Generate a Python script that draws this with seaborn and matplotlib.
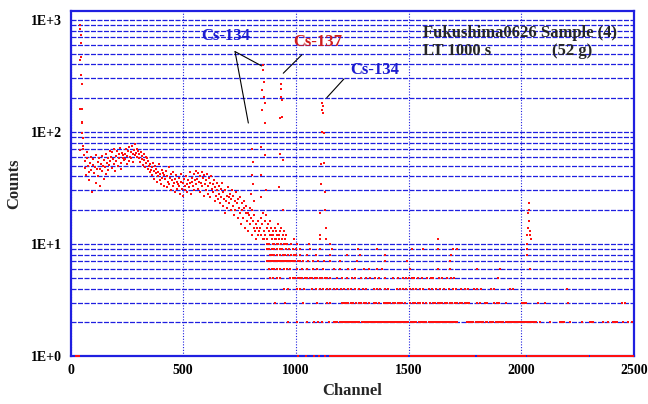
import numpy as np
import pandas as pd
import matplotlib
matplotlib.use("Agg")
import matplotlib.pyplot as plt
from matplotlib.ticker import LogLocator, FuncFormatter, NullFormatter, MultipleLocator
import seaborn as sns

# ---- data ----
# continuum, one reading every 3 channels from ch 60
cont_ch = list(range(60, 960, 3))
cont_counts = [
    62, 48, 55, 41, 58, 66, 50, 44, 37, 53, 60, 46, 29, 51, 57, 43, 49, 35, 62, 47,
    54, 40, 58, 47, 33, 52, 61, 45, 50, 38, 56, 49, 64, 42, 53, 59, 46, 51, 67, 55,
    60, 48, 66, 57, 52, 70, 45, 61, 55, 68, 50, 63, 58, 72, 53, 47, 65, 59, 62, 56,
    64, 57, 70, 52, 61, 67, 55, 73, 60, 66, 58, 75, 63, 54, 69, 62, 78, 65, 71, 60,
    68, 59, 63, 54, 66, 57, 61, 51, 64, 56, 49, 60, 53, 58, 47, 55, 50, 44, 52, 46,
    49, 41, 53, 45, 38, 50, 43, 47, 36, 44, 40, 52, 37, 42, 34, 46, 39, 43, 33, 41,
    38, 45, 32, 40, 36, 49, 34, 39, 30, 42, 37, 33, 44, 35, 29, 38, 41, 31, 36, 34,
    33, 39, 28, 36, 42, 31, 35, 27, 38, 33, 30, 40, 34, 29, 37, 32, 44, 35, 28, 36,
    39, 33, 42, 30, 37, 45, 34, 38, 31, 43, 36, 40, 29, 35, 44, 33, 39, 27, 41, 34,
    37, 30, 42, 33, 28, 39, 35, 26, 40, 31, 34, 29, 37, 24, 32, 27, 35, 30, 25, 33,
    28, 23, 31, 26, 35, 22, 29, 25, 19, 30, 24, 27, 21, 32, 26, 23, 28, 20, 25, 30,
    22, 27, 18, 24, 20, 29, 23, 17, 25, 21, 26, 19, 15, 23, 20, 17, 24, 21, 14, 19,
    22, 16, 19, 13, 18, 21, 15, 17, 12, 20, 16, 14, 18, 13, 15, 11, 14, 12, 16, 13,
    14, 17, 12, 15, 19, 11, 13, 16, 12, 18, 14, 11, 15, 13, 10, 16, 12, 14, 11, 13,
    12, 10, 14, 11, 13, 12, 10, 15, 11, 12, 13, 10, 14, 11, 12, 10, 13, 11, 12, 10,
]

# low energy spike
spike_ch = [40, 41, 42, 43, 44, 45, 46, 47, 48, 49, 50, 51, 52, 53, 54, 55, 56]
spike_counts = [69, 160, 438, 826, 902, 739, 627, 470, 323, 268, 160, 120, 122, 97, 88, 75, 70]

# photopeaks
peak_ch = [803, 805, 807, 809, 811, 813,
           843, 845, 847, 849, 851, 853, 855, 857, 859, 861, 863, 865, 867,
           926, 928, 930, 932, 934, 936, 938, 940, 942, 944,
           1106, 1108, 1110, 1112, 1114, 1116, 1118, 1120, 1122, 1124, 1126, 1128, 1130, 1132, 1134,
           1630,
           2026, 2028, 2030, 2032, 2034, 2036, 2038, 2040]
peak_counts = [28, 41, 71, 54, 34, 24,
               26, 41, 74, 158, 237, 359, 396, 281, 207, 182, 120, 62, 30,
               32, 64, 133, 207, 270, 244, 193, 137, 56, 20,
               12, 19, 34, 52, 100, 158, 181, 169, 147, 97, 53, 29, 20, 14, 11,
               11,
               12, 14, 19, 23, 20, 16, 13, 12]

# scattered 10-12 count channels above ch 850
tail_ch = [860, 872, 885, 898, 910, 921, 950, 962, 978, 990, 1004, 1060, 1107, 1150, 1630, 2024, 2043]
tail_counts = [11, 10, 12, 10, 11, 10, 11, 10, 10, 11, 10, 10, 11, 10, 11, 10, 11]

# channels sitting on each low integer count
ch_at_1 = [26, 31, 36, 1008, 1046, 1079, 1104, 1131, 1152, 1159, 1168, 1175, 1183, 1190, 1199, 1206,
           1214, 1223, 1230, 1238, 1247, 1254, 1262, 1271, 1278, 1286, 1294, 1303, 1310, 1318, 1327,
           1334, 1342, 1351, 1358, 1366, 1375, 1382, 1390, 1399, 1406, 1414, 1422, 1431, 1438, 1446,
           1455, 1462, 1470, 1479, 1486, 1494, 1510, 1518, 1527, 1534, 1542, 1550, 1559, 1566, 1574,
           1583, 1590, 1598, 1607, 1614, 1622, 1631, 1638, 1646, 1655, 1662, 1670, 1678, 1687, 1694,
           1702, 1711, 1718, 1726, 1735, 1742, 1750, 1759, 1766, 1774, 1783, 1790, 1806, 1815, 1822,
           1830, 1839, 1846, 1854, 1863, 1870, 1878, 1887, 1894, 1902, 1911, 1918, 1926, 1934, 1943,
           1950, 1958, 1967, 1974, 1982, 1991, 1998, 2006, 2015, 2030, 2039, 2046, 2054, 2062, 2071,
           2078, 2086, 2095, 2102, 2110, 2119, 2126, 2134, 2143, 2150, 2158, 2167, 2174, 2182, 2190,
           2199, 2206, 2214, 2223, 2230, 2238, 2247, 2254, 2262, 2271, 2278, 2286, 2295, 2310, 2318,
           2327, 2334, 2342, 2351, 2358, 2366, 2375, 2382, 2390, 2399, 2406, 2414, 2423, 2430, 2438,
           2446, 2455, 2462, 2470, 2479, 2486, 2494]
ch_at_2 = [963, 1005, 1048, 1082, 1096, 1118, 1145, 1168, 1176, 1184, 1195, 1203, 1212, 1221, 1229,
           1240, 1248, 1256, 1265, 1274, 1282, 1293, 1301, 1310, 1318, 1327, 1338, 1346, 1355, 1364,
           1372, 1383, 1391, 1400, 1408, 1419, 1427, 1436, 1444, 1453, 1464, 1472, 1481, 1490, 1498,
           1509, 1517, 1526, 1534, 1545, 1553, 1562, 1570, 1579, 1590, 1598, 1607, 1616, 1624, 1635,
           1643, 1652, 1660, 1671, 1679, 1688, 1697, 1705, 1716, 1760, 1769, 1778, 1786, 1797, 1805,
           1814, 1823, 1831, 1842, 1850, 1859, 1868, 1876, 1887, 1895, 1904, 1913, 1921, 1932, 1940,
           1949, 1958, 1966, 1977, 1985, 1994, 2003, 2011, 2022, 2030, 2039, 2048, 2056, 2066, 2083,
           2127, 2172, 2180, 2190, 2216, 2268, 2305, 2313, 2320, 2364, 2386, 2409, 2416, 2423, 2453,
           2475, 2492]
ch_at_3 = [907, 952, 1033, 1092, 1138, 1150, 1205, 1214, 1224, 1233, 1245, 1254, 1266, 1279, 1290,
           1300, 1311, 1325, 1345, 1356, 1370, 1390, 1399, 1410, 1419, 1430, 1440, 1451, 1461, 1472,
           1483, 1508, 1518, 1529, 1540, 1550, 1562, 1575, 1597, 1607, 1618, 1629, 1640, 1650, 1662,
           1672, 1684, 1694, 1705, 1716, 1727, 1738, 1748, 1760, 1770, 1802, 1816, 1838, 1848, 1878,
           1890, 1902, 1931, 2002, 2012, 2022, 2076, 2105, 2208, 2447, 2458]
ch_at_4 = [948, 965, 1006, 1020, 1038, 1073, 1090, 1108, 1122, 1138, 1150, 1170, 1184, 1198, 1213,
           1230, 1246, 1262, 1278, 1296, 1312, 1346, 1360, 1374, 1395, 1408, 1450, 1462, 1476, 1490,
           1505, 1520, 1533, 1551, 1566, 1590, 1606, 1622, 1640, 1655, 1680, 1695, 1710, 1732, 1748,
           1762, 1790, 1805, 1822, 1865, 1878, 1952, 1964, 2201]
ch_at_5 = [886, 900, 915, 928, 975, 986, 996, 1008, 1018, 1028, 1040, 1050, 1061, 1072, 1083, 1094,
           1105, 1116, 1128, 1140, 1150, 1183, 1205, 1225, 1250, 1262, 1290, 1310, 1327, 1352, 1370,
           1395, 1432, 1455, 1475, 1490, 1500, 1515, 1525, 1540, 1560, 1580, 1600, 1610, 1635, 1650,
           1672, 1690, 1703, 1898]
ch_at_6 = [882, 893, 905, 918, 930, 946, 960, 972, 1006, 1025, 1048, 1075, 1095, 1120, 1168, 1195,
           1230, 1262, 1300, 1326, 1360, 1382, 1506, 1632, 1684, 1802, 1905, 2038]
ch_at_7 = [872, 880, 888, 896, 905, 913, 921, 930, 938, 946, 955, 963, 972, 980, 989, 998, 1008,
           1018, 1030, 1052, 1075, 1100, 1126, 1150, 1196, 1270, 1395, 1492, 1684]
ch_at_8 = [885, 895, 905, 917, 930, 942, 952, 965, 978, 990, 1001, 1020, 1050, 1088, 1151, 1225,
           1284, 1395, 1690, 2024]
ch_at_9 = [870, 880, 892, 903, 915, 928, 940, 955, 970, 985, 1000, 1018, 1063, 1107, 1159, 1277,
           1358, 1514, 1565, 1632, 1698, 1713, 2024]
low_levels = [ch_at_1, ch_at_2, ch_at_3, ch_at_4, ch_at_5, ch_at_6, ch_at_7, ch_at_8, ch_at_9]

# ---- build the table ----
frames = [
    pd.DataFrame({"Channel": cont_ch, "Counts": cont_counts}),
    pd.DataFrame({"Channel": spike_ch, "Counts": spike_counts}),
    pd.DataFrame({"Channel": peak_ch, "Counts": peak_counts}),
    pd.DataFrame({"Channel": tail_ch, "Counts": tail_counts}),
]
for level, chans in enumerate(low_levels, start=1):
    frames.append(pd.DataFrame({"Channel": chans, "Counts": [level] * len(chans)}))
df = pd.concat(frames, ignore_index=True)

# ---- style ----
sns.set_style("white")
plt.rcParams["font.family"] = ["Liberation Serif", "DejaVu Serif"]
plt.rcParams["font.weight"] = "bold"
plt.rcParams["axes.labelweight"] = "bold"

BLUE = "#1f1fe0"
BOLD = dict(fontweight="bold", family=["Liberation Serif", "DejaVu Serif"])

fig, ax = plt.subplots(figsize=(6.48, 4.04), dpi=100)
fig.subplots_adjust(left=0.1088, right=0.9784, top=0.9728, bottom=0.1188)

sns.scatterplot(data=df, x="Channel", y="Counts", marker="s", s=2.4, color="#ff1010",
                linewidth=0, ax=ax, legend=False)
for coll in ax.collections:
    coll.set_zorder(4)
    coll.set_clip_on(False)

ax.set_yscale("log")
ax.set_xlim(0, 2500)
ax.set_ylim(1, 1200)
ax.xaxis.set_major_locator(MultipleLocator(500))
ax.yaxis.set_major_locator(LogLocator(base=10))
ax.yaxis.set_minor_locator(LogLocator(base=10, subs=range(2, 10)))
ax.yaxis.set_major_formatter(FuncFormatter(lambda v, _: f"1E+{int(round(np.log10(v)))}"))
ax.yaxis.set_minor_formatter(NullFormatter())

ax.grid(True, which="both", axis="y", color=BLUE, linestyle=(0, (4, 1.2)), linewidth=0.9)
ax.grid(True, which="major", axis="x", color=BLUE, linestyle=(0, (1, 1.5)), linewidth=0.8)
ax.set_axisbelow(True)

for sp in ax.spines.values():
    sp.set_color(BLUE)
    sp.set_linewidth(1.6)
    sp.set_zorder(2)
ax.tick_params(axis="both", which="both", direction="in", color=BLUE, labelsize=10,
               labelcolor="black", pad=6)
ax.tick_params(axis="both", which="major", length=4)
ax.tick_params(axis="y", which="minor", length=2)
for lbl in ax.get_xticklabels() + ax.get_yticklabels():
    lbl.set_fontweight("bold")

ax.set_xlabel("Channel", fontsize=12, labelpad=4, **BOLD)
ax.set_ylabel("Counts", fontsize=12, labelpad=6, **BOLD)

# peak labels
line_kw = dict(arrowstyle="-", color="black", lw=0.8, shrinkA=0, shrinkB=0)
ax.annotate("", xy=(848, 388), xytext=(730, 521), arrowprops=line_kw)
ax.annotate("", xy=(789, 120), xytext=(730, 521), arrowprops=line_kw)
ax.annotate("", xy=(944, 334), xytext=(1026, 487), arrowprops=line_kw)
ax.annotate("", xy=(1137, 202), xytext=(1213, 297), arrowprops=line_kw)
ax.text(690, 719, "Cs-134", color="#1c1cd0", fontsize=12, ha="center", va="center", **BOLD)
ax.text(1098, 636, "Cs-137", color="#d01c1c", fontsize=12, ha="center", va="center", **BOLD)
ax.text(1351, 358, "Cs-134", color="#1c1cd0", fontsize=12, ha="center", va="center", **BOLD)

ax.text(0.6256, 0.936, "Fukushima0626 Sample (4)", transform=ax.transAxes,
        fontsize=12, ha="left", va="center", **BOLD)
ax.text(0.6256, 0.884, "LT 1000 s", transform=ax.transAxes, fontsize=12,
        ha="left", va="center", **BOLD)
ax.text(0.854, 0.884, "(52 g)", transform=ax.transAxes, fontsize=12,
        ha="left", va="center", **BOLD)

fig.savefig("out.png", dpi=100)
